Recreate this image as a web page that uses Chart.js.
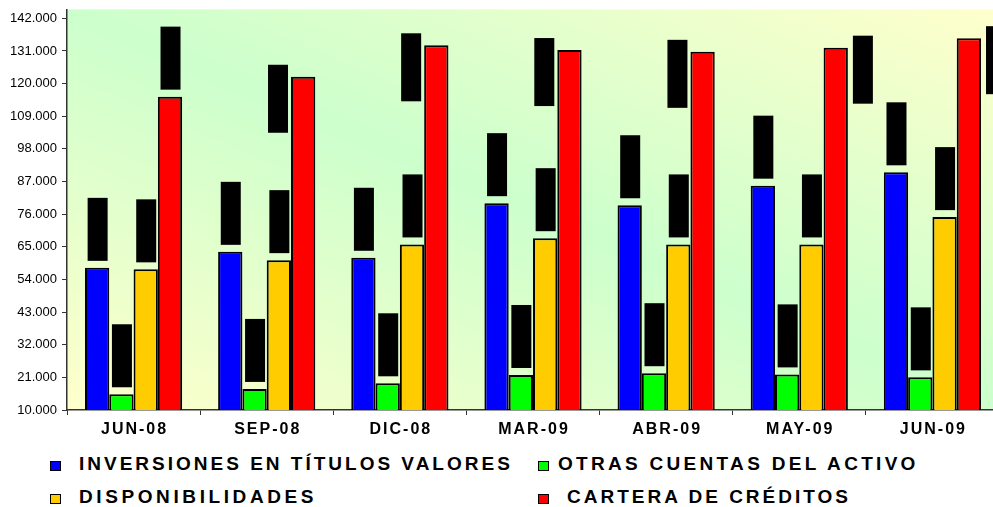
<!DOCTYPE html>
<html>
<head>
<meta charset="utf-8">
<script src="https://cdn.jsdelivr.net/npm/chart.js@4.4.1/dist/chart.umd.min.js"></script>
<style>
  body { margin: 0; width: 993px; height: 507px; overflow: hidden; background: #fff; position: relative; font-family: "Liberation Sans", Arial, sans-serif; }
  #wrap { position: absolute; left: 0; top: 0; width: 1000px; height: 445px; }
  .item { position: absolute; font-weight: bold; font-size: 19px; line-height: 19px; letter-spacing: 3px; color: #000; white-space: nowrap; }
  .mark { position: absolute; width: 9px; height: 8px; border: 1px solid #000; }
</style>
</head>
<body>
<div id="wrap"><canvas id="chart" width="1000" height="445"></canvas></div>
<div id="legend"></div>
<script>
const categories = ['JUN-08', 'SEP-08', 'DIC-08', 'MAR-09', 'ABR-09', 'MAY-09', 'JUN-09'];
const inversiones = [57900, 63300, 61300, 79700, 79000, 85600, 90100];
const otrasCuentas = [15300, 17100, 19000, 21800, 22400, 22000, 21000];
const disponibilidades = [57400, 60500, 65800, 67900, 65800, 65800, 75000];
const cartera = [115600, 122300, 132900, 131300, 130700, 132100, 135300];
const yTickValues = [10000, 21000, 32000, 43000, 54000, 65000, 76000, 87000, 98000, 109000, 120000, 131000, 142000];
const seriesNames = ['INVERSIONES EN TÍTULOS VALORES', 'OTRAS CUENTAS DEL ACTIVO', 'DISPONIBILIDADES', 'CARTERA DE CRÉDITOS'];
const seriesColors = ['#0000ff', '#00ff00', '#ffcc00', '#ff0000'];

const FONT = '"Liberation Sans", Arial, sans-serif';

function fmt(v) {
  return String(v).replace(/\B(?=(\d{3})+(?!\d))/g, '.');
}

// legend, 2 x 2 like the excel one
const legendPos = [
  { mx: 50, tx: 79, row: 0, ls: 3 },
  { mx: 538, tx: 558, row: 0, ls: 3.3 },
  { mx: 50, tx: 79, row: 1, ls: 3.6 },
  { mx: 538, tx: 567, row: 1, ls: 3 }
];
const legend = document.getElementById('legend');
seriesNames.forEach(function(name, s) {
  const p = legendPos[s];
  const top = p.row === 0 ? 454 : 486.5;
  const m = document.createElement('div');
  m.className = 'mark';
  m.style.left = p.mx + 'px';
  m.style.top = (top + 7) + 'px';
  m.style.background = seriesColors[s];
  legend.appendChild(m);
  const t = document.createElement('div');
  t.className = 'item';
  t.style.left = p.tx + 'px';
  t.style.top = top + 'px';
  t.style.letterSpacing = p.ls + 'px';
  t.textContent = name;
  legend.appendChild(t);
});

// gradient behind the plot area
const plotBackground = {
  id: 'plotBackground',
  beforeDraw(chart) {
    const a = chart.chartArea;
    const ctx = chart.ctx;
    const W = a.right - a.left, H = a.bottom - a.top;
    const cx = a.left + W / 2, cy = a.top + H / 2;
    const t = W * H / (W * W + H * H);
    const g = ctx.createLinearGradient(cx - t * H, cy + t * W, cx + t * H, cy - t * W);
    g.addColorStop(0, '#ffffcc');
    g.addColorStop(0.5, '#ccffcc');
    g.addColorStop(1, '#ffffcc');
    ctx.save();
    ctx.fillStyle = g;
    ctx.fillRect(a.left, a.top, W, H);
    ctx.restore();
  }
};

// the data labels show up as plain black boxes
const labelBoxes = {
  id: 'labelBoxes',
  afterDatasetsDraw(chart) {
    const ctx = chart.ctx;
    const a = chart.chartArea;
    ctx.save();
    ctx.fillStyle = '#000';
    chart.data.datasets.forEach(function(ds, d) {
      chart.getDatasetMeta(d).data.forEach(function(bar, i) {
        const w = 20, h = 63, gap = 7;
        let left = bar.x - w / 2 + 0.5;
        let top = bar.y - gap - h;
        let hh = h;
        if (top < a.top) {
          hh = 68;
          top = bar.y - 12;
          left = i >= 5 ? bar.x + bar.width / 2 + 5 : bar.x - bar.width / 2 - 3 - w;
        }
        ctx.fillRect(left, top, w, hh);
      });
    });
    ctx.restore();
  },
  afterDraw(chart) {
    const ctx = chart.ctx;
    const x = chart.scales.x;
    ctx.save();
    ctx.font = 'bold 16px ' + FONT;
    ctx.fillStyle = '#000';
    ctx.textAlign = 'center';
    ctx.textBaseline = 'middle';
    ctx.letterSpacing = '2px';
    categories.forEach(function(c, i) {
      ctx.fillText(c, x.getPixelForValue(i) + 1, 430);
    });
    ctx.restore();
  }
};

const datasets = [inversiones, otrasCuentas, disponibilidades, cartera].map(function(vals, i) {
  return {
    label: seriesNames[i],
    data: vals,
    backgroundColor: seriesColors[i],
    borderColor: '#000',
    borderWidth: 2,
    borderSkipped: false,
    barPercentage: 1,
    categoryPercentage: 0.73
  };
});

new Chart(document.getElementById('chart').getContext('2d'), {
  type: 'bar',
  data: { labels: categories, datasets: datasets },
  options: {
    responsive: false,
    animation: false,
    layout: { padding: { top: 9.4, right: 1, left: 0, bottom: 0 } },
    plugins: {
      legend: { display: false },
      tooltip: { enabled: false }
    },
    scales: {
      x: {
        grid: { offset: true, drawOnChartArea: false, drawTicks: true, tickLength: 5, color: '#333' },
        border: { color: '#333', width: 1.5 },
        ticks: { display: false },
        afterFit: function(axis) { axis.height = 35; }
      },
      y: {
        min: 10000,
        max: 145000,
        afterBuildTicks: function(axis) {
          axis.ticks = yTickValues.map(function(v) { return { value: v }; });
        },
        grid: { drawOnChartArea: false, tickLength: 5, color: '#333' },
        border: { color: '#333', width: 1.5 },
        ticks: {
          color: '#000',
          padding: 5,
          font: { family: FONT, size: 13 },
          callback: function(v) { return fmt(v); }
        },
        afterFit: function(axis) {
          axis.width = 67;
          axis.paddingTop = 0;
          axis.paddingBottom = 0;
        }
      }
    }
  },
  plugins: [plotBackground, labelBoxes]
});
</script>
</body>
</html>
